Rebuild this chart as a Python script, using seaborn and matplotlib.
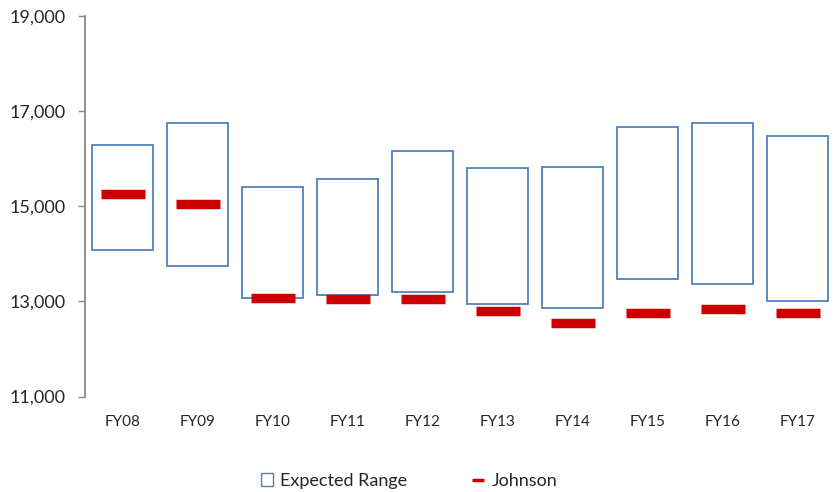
import numpy as np
import pandas as pd
import matplotlib
matplotlib.use("Agg")
import matplotlib.pyplot as plt
import seaborn as sns
from matplotlib.patches import Patch
from matplotlib.lines import Line2D

years = ['FY08', 'FY09', 'FY10', 'FY11', 'FY12', 'FY13', 'FY14', 'FY15', 'FY16', 'FY17']
range_low = [14070, 13740, 13070, 13130, 13200, 12950, 12850, 13460, 13360, 13000]
range_high = [16290, 16745, 15405, 15560, 16160, 15810, 15830, 16670, 16745, 16470]
johnson = [15245, 15040, 13065, 13040, 13040, 12805, 12535, 12760, 12840, 12760]

df = pd.DataFrame({'year': years, 'low': range_low, 'high': range_high, 'johnson': johnson})
df['span'] = df['high'] - df['low']

sns.set_style('white')
plt.rcParams['font.family'] = ['Lato', 'DejaVu Sans']

fig = plt.figure(figsize=(8.35, 4.92), dpi=100)
ax = fig.add_axes([0.102, 0.194, 0.898, 0.774])

blue = '#4f81bd'
red = '#cc0000'

# expected range boxes (floating bars)
sns.barplot(data=df, x='year', y='span', bottom=df['low'].values, width=0.81,
            color=blue, fill=False, edgecolor=blue, linewidth=1.3, ax=ax)

# Johnson markers
sns.scatterplot(data=df, x='year', y='johnson', marker='_', s=31**2,
                linewidth=6.8, color=red, ax=ax, legend=False, zorder=3)

ax.set_xlim(-0.5, 9.5)
ax.set_ylim(11000, 19000)
ax.set_yticks([11000, 13000, 15000, 17000, 19000])
ax.set_yticklabels([f'{v:,}' for v in [11000, 13000, 15000, 17000, 19000]])
ax.set_xlabel('')
ax.set_ylabel('')

for s in ['top', 'right', 'bottom']:
    ax.spines[s].set_visible(False)
ax.spines['left'].set_color('#888888')
ax.spines['left'].set_linewidth(1.3)
ax.tick_params(axis='y', which='both', left=True, length=5, width=1.0,
               color='#888888', labelsize=13, pad=9)
ax.tick_params(axis='x', length=0, labelsize=11, pad=13)

handles = [Patch(facecolor='white', edgecolor=blue, linewidth=1.0),
           Line2D([0], [0], color=red, linewidth=2.5, solid_capstyle='butt')]
fig.legend(handles, ['Expected Range', 'Johnson'], loc='lower center',
           bbox_to_anchor=(0.49, -0.027), ncol=2, frameon=False, fontsize=13,
           handlelength=0.65, handleheight=0.75, columnspacing=3.6, handletextpad=0.4)

plt.savefig('out.png', dpi=100)
